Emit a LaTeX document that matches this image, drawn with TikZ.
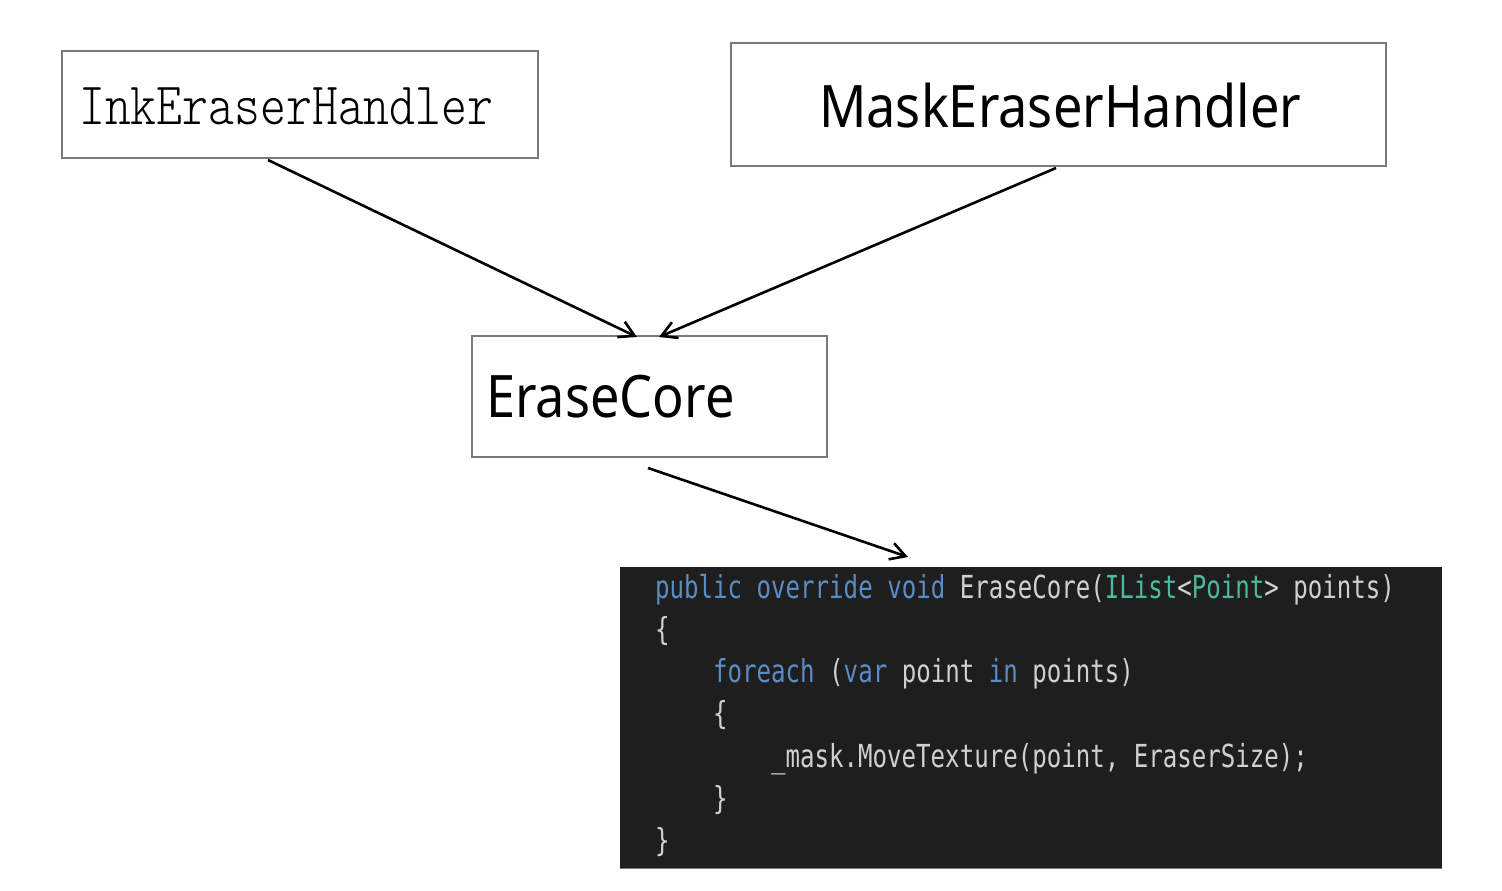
\documentclass[tikz,border=0pt]{standalone}
\usepackage{fontspec}
\usetikzlibrary{arrows.meta}
\newfontfamily\codefont[FakeStretch=0.76]{DejaVu Sans Mono}
\newfontfamily\uifont{Noto Sans}
\newfontfamily\inkfont{lmmonolt10-regular.otf}
\definecolor{boxline}{HTML}{7A7A7A}
\definecolor{codebg}{HTML}{1E1E1E}
\definecolor{codetxt}{HTML}{D0D0D0}
\definecolor{codekw}{HTML}{5A8CC6}
\definecolor{codety}{HTML}{4DB89C}
\newcommand{\kw}[1]{\textcolor{codekw}{#1}}
\newcommand{\ty}[1]{\textcolor{codety}{#1}}
\begin{document}
\begin{tikzpicture}[x=1pt,y=-1pt,
  box/.style={draw=boxline,line width=1.5pt,inner sep=0pt,fill=white},
  arr/.style={draw=black,line width=2.6pt,-{Straight Barb[length=15pt,width=17pt,line width=2.6pt]}},
  lbl/.style={anchor=base west,inner sep=0pt},
  codeline/.style={anchor=base west,inner sep=0pt,text=codetxt,font=\codefont\fontsize{31.7}{36}\selectfont}
]
\useasboundingbox (0,0) rectangle (1502,891);
% boxes
\node[box,minimum width=476pt,minimum height=107pt] (ink) at (300,104.5) {};
\node[box,minimum width=655pt,minimum height=123pt] (mask) at (1058.5,104.5) {};
\node[box,minimum width=355pt,minimum height=121pt] (core) at (649.5,396.5) {};
\node[fill=codebg,inner sep=0pt,minimum width=822pt,minimum height=301pt] (code) at (1031,717.5) {};
\draw[boxline,line width=1pt] (code.south west) -- (code.south east);
% labels
\node[lbl,font=\inkfont\fontsize{49.3}{56}\selectfont] (inklbl) at (79,124) {\scalebox{1}[1.22]{InkEraserHandler}};
\node[lbl,font=\uifont\fontsize{52.3}{60}\selectfont] (masklbl) at (819,127.5) {\scalebox{1}[1.12]{MaskEraserHandler}};
\node[lbl,font=\uifont\fontsize{52.3}{60}\selectfont] (corelbl) at (486,417.5) {\scalebox{1}[1.12]{EraseCore}};
% code
\node[codeline] (l1) at (655,598) {\kw{public override void} EraseCore(\ty{IList}<\ty{Point}> points)};
\node[codeline] (l2) at (655,640.25) {\{};
\node[codeline] (l3) at (713,682.5) {\kw{foreach} (\kw{var} point \kw{in} points)};
\node[codeline] (l4) at (713,724.75) {\{};
\node[codeline] (l5) at (771,767) {\_mask.MoveTexture(point, EraserSize);};
\node[codeline] (l6) at (713,809.25) {\}};
\node[codeline] (l7) at (655,851.5) {\}};
% connector ends
\coordinate (inkout) at (268,160);
\coordinate (maskout) at (1056,168);
\coordinate (corein1) at (637,337);
\coordinate (corein2) at (659,337);
\coordinate (coreout) at (648,468);
\coordinate (codein) at (908,557);
\draw[arr] (inkout) -- (corein1);
\draw[arr] (maskout) -- (corein2);
\draw[arr] (coreout) -- (codein);
\end{tikzpicture}
\end{document}
